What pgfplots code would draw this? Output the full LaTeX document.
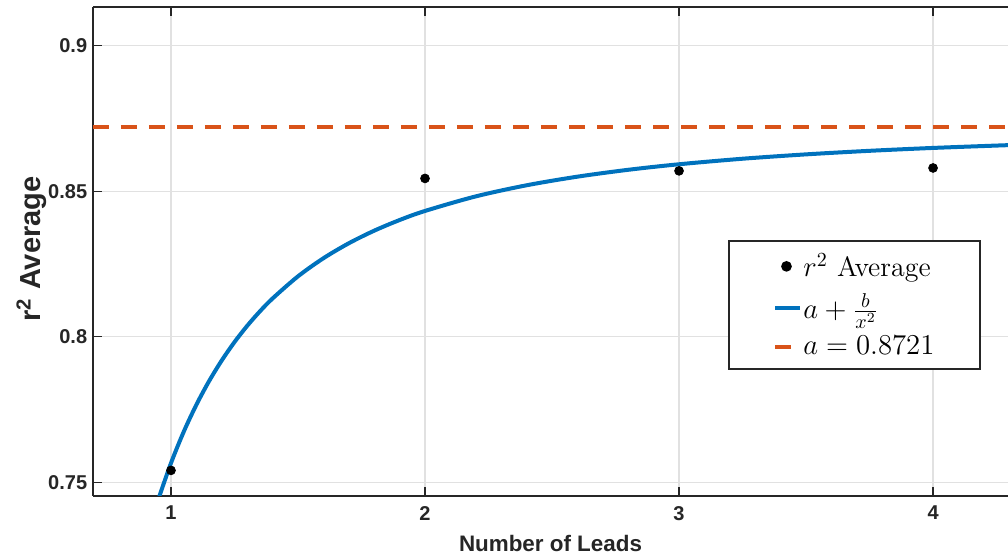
\documentclass[border=0pt]{standalone}
\usepackage{pgfplots}
\pgfplotsset{compat=1.18}
\usepackage{fontspec}
\newfontfamily\hel{Liberation Sans}
\definecolor{mblue}{RGB}{0,114,189}
\definecolor{morange}{RGB}{217,83,25}
\definecolor{axgray}{RGB}{38,38,38}
\definecolor{gridgray}{RGB}{225,225,225}

\pgfplotsset{
  dotlegend/.style={legend image code/.code={\fill[black] (5.65pt,0pt) circle (2.2pt);}},
  bluelegend/.style={legend image code/.code={\draw[mblue, line width=2pt] (0pt,0pt) -- (12.5pt,0pt);}},
  orangelegend/.style={legend image code/.code={\draw[morange, line width=2pt] (0pt,0pt) -- (8.3pt,0pt);}},
}

\begin{document}
\begin{tikzpicture}
\begin{axis}[
  scale only axis, width=457.5pt, height=244.5pt,
  xmin=0.693, xmax=4.295, ymin=0.7453, ymax=0.9133,
  axis x line*=box, axis y line*=left,
  axis line style={axgray, line width=0.8pt},
  xtick={1,2,3,4}, ytick={0.75,0.8,0.85,0.9},
  xticklabels={1,2,3,4}, yticklabels={0.75,0.8,0.85,0.9},
  tick align=inside, major tick length=4.5pt,
  tick style={axgray, line width=0.6pt},
  /pgf/number format/assume math mode=true,
  ticklabel style={font=\hel\bfseries\fontsize{10}{12}\selectfont, text=axgray},
  xticklabel style={yshift=-1.5pt},
  yticklabel style={xshift=0.6pt},
  grid=major, major grid style={gridgray, line width=0.6pt},
  xlabel={\hel\bfseries Number of Leads},
  ylabel={\hel\bfseries r\textsuperscript{2} Average},
  xlabel style={font=\fontsize{11.2}{13}\selectfont, text=axgray, anchor=base,
    at={(axis description cs:0.5,0)}, yshift=-27.7pt},
  ylabel style={font=\fontsize{14.5}{16}\selectfont, text=axgray, anchor=base,
    at={(axis description cs:0,0.505)}, yshift=26pt},
  legend style={at={(axis description cs:0.6943,0.5229)}, anchor=north west,
    draw=axgray, line width=0.9pt, fill=white,
    font=\fontsize{14}{16}\selectfont, inner xsep=22pt, inner ysep=4pt,
    row sep=3pt, nodes={inner xsep=0.6pt, inner ysep=2pt}},
  legend cell align=left,
]
% averaged r^2 per number of leads
\addplot[only marks, mark=*, mark size=2.2pt, black, dotlegend]
  coordinates {(1,0.7541) (2,0.8544) (3,0.8570) (4,0.8580)};
\addlegendentry{$r^2$ Average}

% fitted model a + b/x^2, a = 0.8721, b = -0.1155
\addplot[mblue, line width=2pt, smooth, bluelegend]
  coordinates {
  (0.95,0.74412) (1.00,0.75660) (1.05,0.76734) (1.10,0.77665)
  (1.15,0.78477) (1.20,0.79189) (1.25,0.79818) (1.30,0.80376)
  (1.35,0.80873) (1.40,0.81317) (1.50,0.82077) (1.60,0.82698)
  (1.70,0.83213) (1.80,0.83645) (1.90,0.84011) (2.00,0.84323)
  (2.20,0.84824) (2.40,0.85205) (2.60,0.85501) (2.80,0.85737)
  (3.00,0.85927) (3.25,0.86117) (3.50,0.86267) (3.75,0.86389)
  (4.00,0.86488) (4.30,0.86585)};
\addlegendentry{$a+\frac{b}{x^2}$}

% asymptote a
\addplot[morange, line width=2pt, dash pattern=on 8pt off 6pt, orangelegend]
  coordinates {(0.693,0.8721) (4.295,0.8721)};
\addlegendentry{$a=0.8721$}
\end{axis}
\pgfresetboundingbox
\path (-46.5pt,-30.65pt) rectangle (457.5pt,248pt);
\end{tikzpicture}
\end{document}
